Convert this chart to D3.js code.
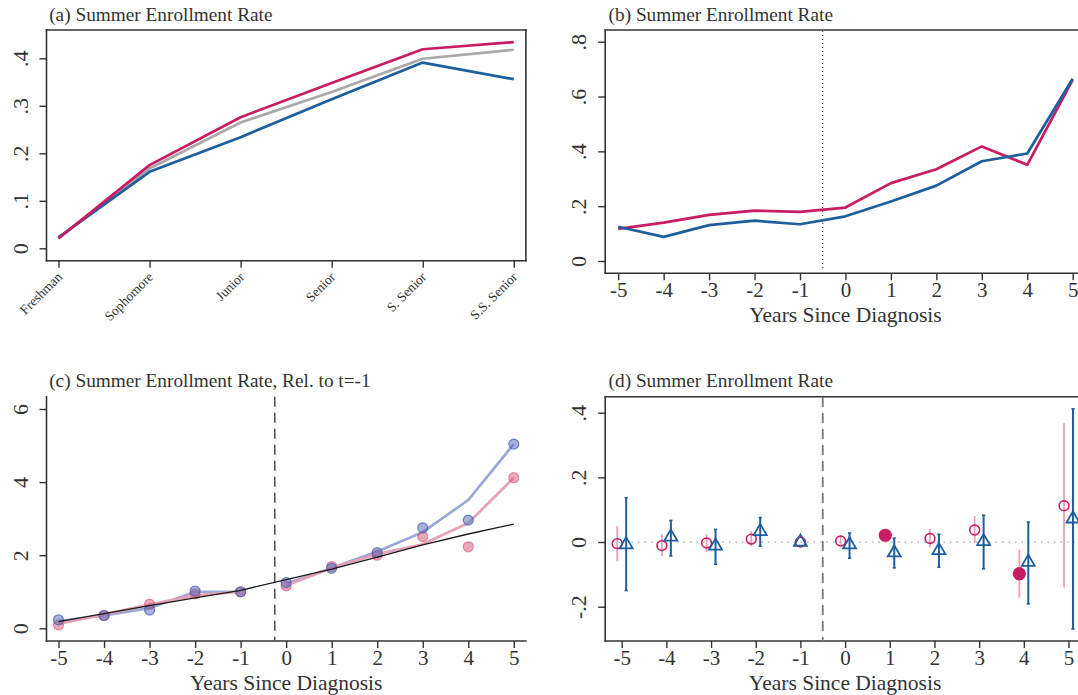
<!DOCTYPE html>
<html>
<head>
<meta charset="utf-8">
<script src="https://cdn.jsdelivr.net/npm/d3@7"></script>
<style>
  body { margin: 0; background: #fff; }
  svg { display: block; }
</style>
</head>
<body>
<script>
// ---- data ----
var levels = ["Freshman", "Sophomore", "Junior", "Senior", "S. Senior", "S.S. Senior"];
var aPink = [0.021, 0.175, 0.276, 0.348, 0.419, 0.434];
var aGray = [0.022, 0.168, 0.265, 0.329, 0.399, 0.418];
var aBlue = [0.023, 0.161, 0.234, 0.314, 0.391, 0.356];

var years = [-5, -4, -3, -2, -1, 0, 1, 2, 3, 4, 5];
var bPink = [0.117, 0.140, 0.168, 0.184, 0.179, 0.195, 0.284, 0.335, 0.418, 0.351, 0.661];
var bBlue = [0.125, 0.088, 0.131, 0.147, 0.134, 0.163, 0.217, 0.275, 0.364, 0.392, 0.665];

var cBluePts  = [0.23, 0.35, 0.50, 1.02, 1.00, 1.25, 1.64, 2.07, 2.75, 2.96, 5.04];
var cPinkPts  = [0.09, 0.35, 0.66, 0.94, 1.00, 1.16, 1.69, 2.00, 2.51, 2.23, 4.12];
var cBlueLine = [0.20, 0.35, 0.55, 1.00, 1.00, 1.22, 1.65, 2.10, 2.63, 3.51, 5.04];
var cPinkLine = [0.12, 0.38, 0.65, 0.90, 1.00, 1.17, 1.65, 2.03, 2.30, 2.88, 4.12];
var cFit      = [0.18, 0.40, 0.62, 0.83, 1.04, 1.33, 1.62, 1.95, 2.28, 2.58, 2.85];

var dPink   = [-0.005, -0.011, -0.003, 0.009, 0, 0.003, 0.021, 0.011, 0.037, -0.098, 0.112];
var dPinkLo = [-0.060, -0.044, -0.031, -0.013, 0, -0.010, 0.008, -0.017, -0.003, -0.172, -0.141];
var dPinkHi = [0.049, 0.024, 0.024, 0.034, 0, 0.020, 0.035, 0.041, 0.080, -0.024, 0.367];
var dPinkSig = [0, 0, 0, 0, 0, 0, 1, 0, 0, 1, 0];
var dBlue   = [-0.008, 0.016, -0.012, 0.033, 0, -0.008, -0.033, -0.026, 0.002, -0.062, 0.072];
var dBlueLo = [-0.150, -0.043, -0.069, -0.013, 0, -0.050, -0.080, -0.078, -0.083, -0.191, -0.269];
var dBlueHi = [0.137, 0.067, 0.039, 0.076, 0, 0.028, 0.012, 0.024, 0.083, 0.062, 0.412];

var ticksA = [0, 0.1, 0.2, 0.3, 0.4];
var ticksB = [0, 0.2, 0.4, 0.6, 0.8];
var ticksC = [0, 2, 4, 6];
var ticksD = [-0.2, 0, 0.2, 0.4];

// ---- styles ----
var font = "'Liberation Serif', 'Times New Roman', serif";
var ink = "#333";
var pink = "#c91c63", blue = "#1d5e9f", gray = "#a9a9a9";
var pinkLight = "#e9a1b5", blueLight = "#9aa8d6";

var svg = d3.select("body").append("svg")
  .attr("width", 1078).attr("height", 695)
  .style("font-family", font);

function dotFmt(d) {
  if (d === 0) return "0";
  return (d < 0 ? "-" : "") + String(+Math.abs(d).toFixed(2)).replace(/^0/, "");
}

function title(x, y, txt) {
  svg.append("text").attr("x", x).attr("y", y)
    .attr("font-size", 19.3).attr("fill", ink).text(txt);
}

function yAxis(x, scale, ticks, fmt) {
  var g = svg.append("g").attr("transform", "translate(" + x + ",0)")
    .call(d3.axisLeft(scale).tickValues(ticks).tickSize(7).tickFormat(fmt));
  g.select(".domain").remove();
  g.selectAll("line").attr("stroke", ink).attr("stroke-width", 1.4);
  g.selectAll("text")
    .attr("x", 0).attr("dy", 0)
    .attr("transform", "translate(-19,0) rotate(-90)")
    .attr("text-anchor", "middle")
    .attr("font-size", 22).attr("font-family", font).attr("fill", ink);
  return g;
}

function xAxis(y, scale, xTitle) {
  var g = svg.append("g").attr("transform", "translate(0," + y + ")")
    .call(d3.axisBottom(scale).tickValues(years).tickSize(7).tickFormat(function(d) { return String(d); }));
  g.select(".domain").remove();
  g.selectAll("line").attr("stroke", ink).attr("stroke-width", 1.4);
  g.selectAll("text").attr("y", 24).attr("dy", 0)
    .attr("font-size", 21).attr("font-family", font).attr("fill", ink);
  svg.append("text")
    .attr("x", scale(0)).attr("y", y + 48.5)
    .attr("text-anchor", "middle")
    .attr("font-size", 21.5).attr("fill", ink)
    .text(xTitle);
  return g;
}

function frame(x0, y0, x1, y1, sides) {
  var seg = {
    top: [x0, y0, x1, y0], bottom: [x0, y1, x1, y1],
    left: [x0, y0, x0, y1], right: [x1, y0, x1, y1]
  };
  sides.forEach(function(s) {
    var p = seg[s];
    svg.append("line")
      .attr("x1", p[0]).attr("y1", p[1]).attr("x2", p[2]).attr("y2", p[3])
      .attr("stroke", ink).attr("stroke-width", 1.6)
      .attr("stroke-linecap", "square");
  });
}

// ================= (a) =================
var xa = d3.scalePoint().domain(levels).range([58.5, 513.8]);
var ya = d3.scaleLinear().domain([0, 0.4]).range([248.3, 58.3]);
title(49.2, 21, "(a) Summer Enrollment Rate");
frame(46.5, 30, 525.9, 260.7, ["top", "bottom", "left", "right"]);
yAxis(46.5, ya, ticksA, dotFmt);

var gxa = svg.append("g").attr("transform", "translate(0,260.7)")
  .call(d3.axisBottom(xa).tickSize(7));
gxa.select(".domain").remove();
gxa.selectAll("line").attr("stroke", ink).attr("stroke-width", 1.4);
gxa.selectAll("text")
  .attr("x", 0).attr("y", 0).attr("dy", 0)
  .attr("transform", "translate(4,17) rotate(-45)")
  .attr("text-anchor", "end")
  .attr("font-size", 13.5).attr("font-family", font).attr("fill", ink);

var lineA = d3.line().x(function(d, i) { return xa(levels[i]); }).y(function(d) { return ya(d); });
[[aGray, gray], [aBlue, blue], [aPink, pink]].forEach(function(s) {
  svg.append("path").attr("d", lineA(s[0]))
    .attr("fill", "none").attr("stroke", s[1]).attr("stroke-width", 2.7)
    .attr("stroke-linejoin", "round");
});

// ================= (b) =================
var xb = d3.scaleLinear().domain([-5, 5]).range([618.2, 1072.7]);
var yb = d3.scaleLinear().domain([0, 0.8]).range([261, 41.7]);
title(608.6, 21, "(b) Summer Enrollment Rate");
frame(605.2, 30, 1100, 273.3, ["top", "bottom", "left"]);
yAxis(605.2, yb, ticksB, dotFmt);
xAxis(273.3, xb, "Years Since Diagnosis");

svg.append("line")
  .attr("x1", xb(-0.5)).attr("x2", xb(-0.5)).attr("y1", 31).attr("y2", 268)
  .attr("stroke", "#555").attr("stroke-width", 1.2).attr("stroke-dasharray", "1,3");

var lineB = d3.line().x(function(d, i) { return xb(years[i]); }).y(function(d) { return yb(d); });
[[bPink, pink], [bBlue, blue]].forEach(function(s) {
  svg.append("path").attr("d", lineB(s[0]))
    .attr("fill", "none").attr("stroke", s[1]).attr("stroke-width", 2.7)
    .attr("stroke-linejoin", "round");
});

// ================= (c) =================
var xc = d3.scaleLinear().domain([-5, 5]).range([58.5, 513.8]);
var yc = d3.scaleLinear().domain([0, 6]).range([628.3, 409]);
title(49.2, 387.3, "(c) Summer Enrollment Rate, Rel. to t=-1");
frame(46.5, 396.7, 525.9, 641, ["bottom", "left"]);
yAxis(46.5, yc, ticksC, function(d) { return String(d); });
xAxis(641, xc, "Years Since Diagnosis");

svg.append("line")
  .attr("x1", xc(-0.25)).attr("x2", xc(-0.25)).attr("y1", 396.7).attr("y2", 641)
  .attr("stroke", "#555").attr("stroke-width", 1.6).attr("stroke-dasharray", "10,6");

var lineC = d3.line().x(function(d) { return xc(d.t); }).y(function(d) { return yc(d.v); });
function pts(arr) { return arr.map(function(v, i) { return { t: years[i], v: v }; }); }

[[cBlueLine, blueLight], [cPinkLine, pinkLight]].forEach(function(s) {
  var all = pts(s[0]);
  [all.filter(function(d) { return d.t < 0; }), all.filter(function(d) { return d.t >= 0; })]
    .forEach(function(part) {
      svg.append("path").attr("d", lineC(part))
        .attr("fill", "none").attr("stroke", s[1]).attr("stroke-width", 2.7)
        .attr("stroke-linejoin", "round");
    });
});

svg.append("g").selectAll("circle").data(pts(cPinkPts)).join("circle")
  .attr("cx", function(d) { return xc(d.t); }).attr("cy", function(d) { return yc(d.v); })
  .attr("r", 5)
  .attr("fill", "rgba(222,96,128,0.55)").attr("stroke", "rgba(214,80,116,0.6)").attr("stroke-width", 1.2);
svg.append("g").selectAll("circle").data(pts(cBluePts)).join("circle")
  .attr("cx", function(d) { return xc(d.t); }).attr("cy", function(d) { return yc(d.v); })
  .attr("r", 5)
  .attr("fill", "rgba(92,115,190,0.55)").attr("stroke", "rgba(64,92,172,0.7)").attr("stroke-width", 1.2);

svg.append("path").attr("d", lineC(pts(cFit)))
  .attr("fill", "none").attr("stroke", "#1a1a1a").attr("stroke-width", 1.3);

// ================= (d) =================
var xd = d3.scaleLinear().domain([-5, 5]).range([621.7, 1068.5]);
var yd = d3.scaleLinear().domain([-0.2, 0.4]).range([606.7, 412.7]);
title(608.6, 387.3, "(d) Summer Enrollment Rate");
frame(605.2, 396.7, 1100, 641, ["top", "bottom", "left"]);
yAxis(605.2, yd, ticksD, dotFmt);
xAxis(641, xd, "Years Since Diagnosis");

svg.append("line")
  .attr("x1", 612).attr("x2", 1078).attr("y1", yd(0)).attr("y2", yd(0))
  .attr("stroke", "#aaa").attr("stroke-width", 1.3).attr("stroke-dasharray", "1.5,5");
svg.append("line")
  .attr("x1", xd(-0.5)).attr("x2", xd(-0.5)).attr("y1", 397).attr("y2", 641)
  .attr("stroke", "#7a7a7a").attr("stroke-width", 1.8).attr("stroke-dasharray", "10,6");

function off(t, dx) { return t === -1 ? t : t + dx; }

var pinkRows = years.map(function(t, i) {
  return { t: off(t, -0.1), v: dPink[i], lo: dPinkLo[i], hi: dPinkHi[i], sig: dPinkSig[i] };
});
var blueRows = years.map(function(t, i) {
  return { t: off(t, 0.1), v: dBlue[i], lo: dBlueLo[i], hi: dBlueHi[i] };
});

var gd = svg.append("g");
gd.selectAll("line.pci").data(pinkRows.filter(function(d) { return d.hi !== d.lo; })).join("line")
  .attr("class", "pci")
  .attr("x1", function(d) { return xd(d.t); }).attr("x2", function(d) { return xd(d.t); })
  .attr("y1", function(d) { return yd(d.lo); }).attr("y2", function(d) { return yd(d.hi); })
  .attr("stroke", pinkLight).attr("stroke-width", 1.8);
gd.selectAll("circle").data(pinkRows).join("circle")
  .attr("cx", function(d) { return xd(d.t); }).attr("cy", function(d) { return yd(d.v); })
  .attr("r", function(d) { return d.sig ? 5.8 : 4.9; })
  .attr("fill", function(d) { return d.sig ? pink : "none"; })
  .attr("stroke", pink).attr("stroke-width", 1.6);

var blueCI = blueRows.filter(function(d) { return d.hi !== d.lo; });
gd.selectAll("line.bci").data(blueCI).join("line")
  .attr("class", "bci")
  .attr("x1", function(d) { return xd(d.t); }).attr("x2", function(d) { return xd(d.t); })
  .attr("y1", function(d) { return yd(d.lo); }).attr("y2", function(d) { return yd(d.hi); })
  .attr("stroke", blue).attr("stroke-width", 2);
["lo", "hi"].forEach(function(k) {
  gd.selectAll("line.cap" + k).data(blueCI).join("line")
    .attr("class", "cap" + k)
    .attr("x1", function(d) { return xd(d.t) - 1.6; }).attr("x2", function(d) { return xd(d.t) + 1.6; })
    .attr("y1", function(d) { return yd(d[k]); }).attr("y2", function(d) { return yd(d[k]); })
    .attr("stroke", blue).attr("stroke-width", 1.6);
});
gd.selectAll("path.tri").data(blueRows).join("path")
  .attr("class", "tri")
  .attr("d", d3.symbol(d3.symbolTriangle, 72))
  .attr("transform", function(d) { return "translate(" + xd(d.t) + "," + yd(d.v) + ")"; })
  .attr("fill", "none").attr("stroke", blue).attr("stroke-width", 1.8);
</script>
</body>
</html>
